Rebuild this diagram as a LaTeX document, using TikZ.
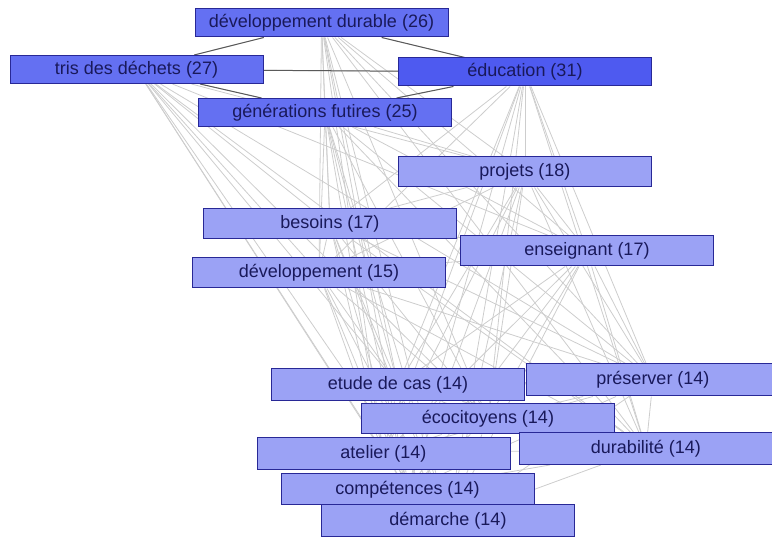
\documentclass[tikz,border=0pt]{standalone}
\usepackage{fontspec}
\setmainfont{Liberation Sans}
\usetikzlibrary{backgrounds}

\definecolor{bordmot}{RGB}{40,40,150}
\definecolor{textemot}{RGB}{25,25,90}
\definecolor{fondcentral}{RGB}{78,90,240}
\definecolor{fondfort}{RGB}{100,112,242}
\definecolor{fondclair}{RGB}{155,162,245}
\definecolor{gristrait}{RGB}{205,205,205}
\definecolor{grisfort}{RGB}{90,90,90}

\begin{document}
\begin{tikzpicture}[
            x=1pt, y=-1pt, font=\fontsize{18}{21}\selectfont, line width=1,
            mot/.style={draw=bordmot, fill=fondclair, text=textemot,
                minimum width=253, minimum height=30, inner sep=0},
            motfort/.style={mot, fill=fondfort, minimum height=28},
            motcentral/.style={mot, fill=fondcentral, minimum height=28},
            lien/.style={draw=gristrait, line width=0.8},
            lienfort/.style={draw=grisfort, line width=1}
        ]
            \useasboundingbox (0,0) rectangle (772,537);

            % mots les plus frequents
            \node[motfort] (devdurable) at (321.5,23) {développement durable (26)};
            \node[motfort] (tris) at (136.5,69.5) {tris des déchets (27)};
            \node[motcentral] (education) at (525,72) {éducation (31)};
            \node[motfort] (generations) at (325,112.5) {générations futires (25)};

            % mots moyens
            \node[mot] (projets) at (525,172) {projets (18)};
            \node[mot] (besoins) at (330,224) {besoins (17)};
            \node[mot] (enseignant) at (587,251) {enseignant (17)};
            \node[mot] (developpement) at (319,273) {développement (15)};

            % mots a 14
            \node[mot, minimum height=32] (etude) at (398,385) {etude de cas (14)};
            \node[mot, minimum height=32] (preserver) at (653,380) {préserver (14)};
            \node[mot] (ecocitoyens) at (488,419) {écocitoyens (14)};
            \node[mot, minimum height=32] (atelier) at (383.5,454) {atelier (14)};
            \node[mot, minimum height=32] (durabilite) at (646,448.5) {durabilité (14)};
            \node[mot, minimum height=31] (competences) at (407.5,489.5) {compétences (14)};
            \node[mot, minimum height=32] (demarche) at (448,521) {démarche (14)};

            % liens
            \begin{scope}[on background layer]
                \foreach \a [count=\i] in {devdurable,tris,education,generations,projets,besoins,enseignant,developpement,etude,preserver,ecocitoyens,atelier,durabilite,competences,demarche}
                    \foreach \b [count=\j] in {devdurable,tris,education,generations,projets,besoins,enseignant,developpement,etude,preserver,ecocitoyens,atelier,durabilite,competences,demarche}
                        {\ifnum\j>\i \draw[lien] (\a) -- (\b); \fi}

                \draw[lienfort] (devdurable) -- (tris);
                \draw[lienfort] (devdurable) -- (education);
                \draw[lienfort] (tris) -- (education);
                \draw[lienfort] (tris) -- (generations);
                \draw[lienfort] (generations) -- (education);
            \end{scope}

        \end{tikzpicture}
\end{document}
